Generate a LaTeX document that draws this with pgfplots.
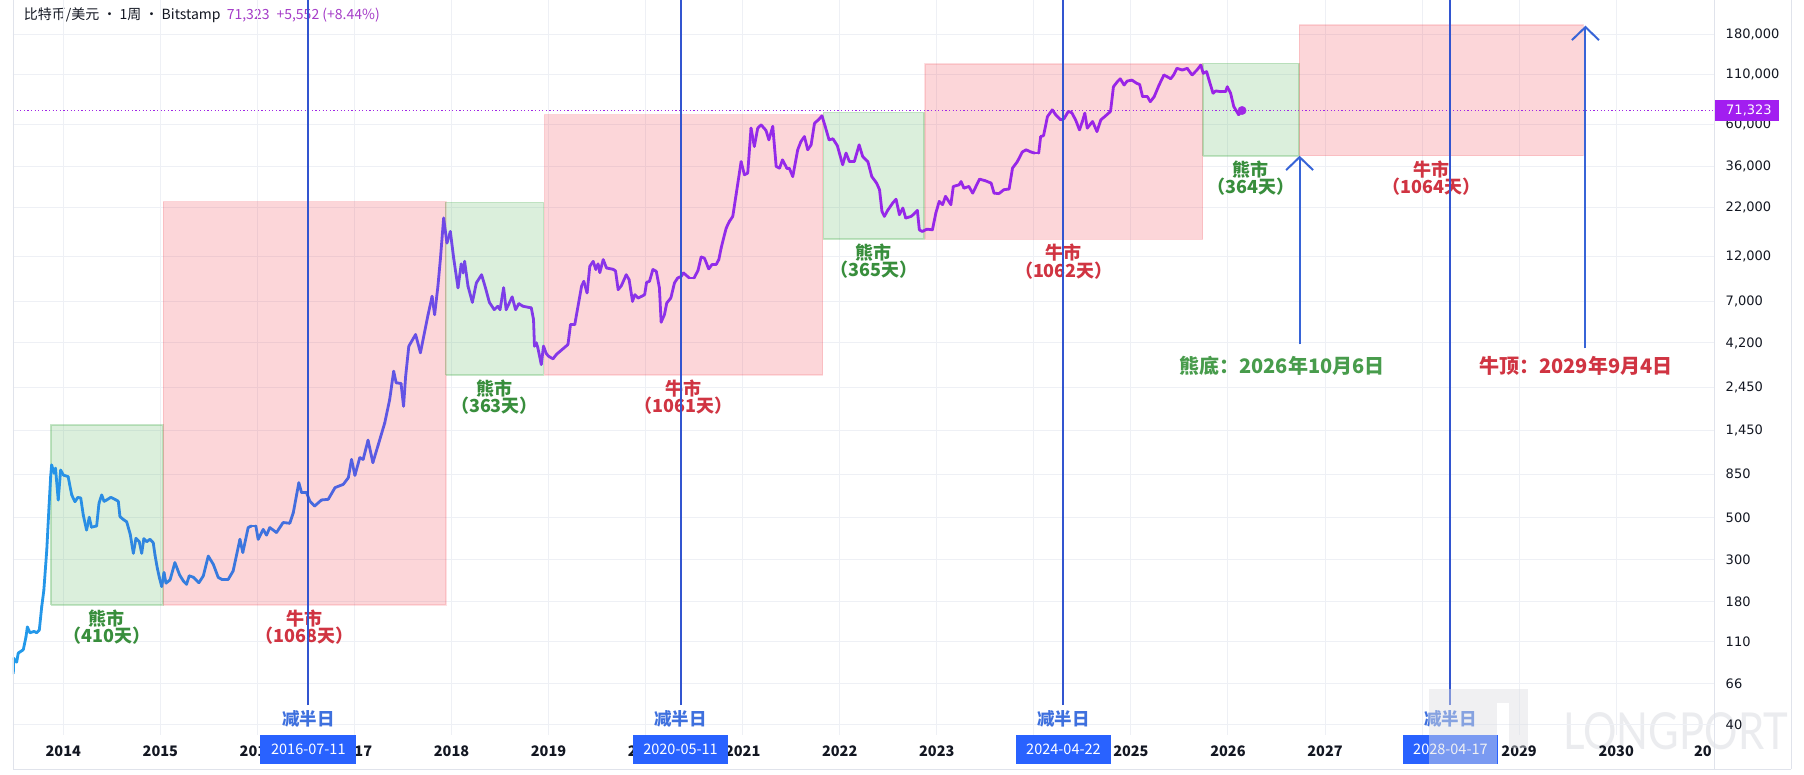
\documentclass[border=0pt]{standalone}
\usepackage{fontspec}
\setmainfont{Noto Sans CJK SC}
\newfontfamily\tickfont{DejaVu Sans}
\newfontfamily\wmfont{Lato}
\usepackage{graphicx}
\usepackage{pgfplots}
\pgfplotsset{compat=1.18}
\usetikzlibrary{arrows.meta}

\definecolor{txt}{RGB}{19,23,34}
\definecolor{gridc}{RGB}{238,240,245}
\definecolor{bordc}{RGB}{224,227,235}
\definecolor{pinkc}{RGB}{242,54,69}
\definecolor{greenc}{RGB}{76,175,80}
\definecolor{gtext}{RGB}{56,142,60}
\definecolor{gtext2}{RGB}{72,156,76}
\definecolor{rtext}{RGB}{208,52,66}
\definecolor{halv}{RGB}{50,85,208}
\definecolor{halvtxt}{RGB}{62,112,222}
\definecolor{arrowc}{RGB}{55,100,215}
\definecolor{tvblue}{RGB}{41,98,255}
\definecolor{purp}{RGB}{160,40,230}
\definecolor{purptxt}{RGB}{165,60,200}
\definecolor{pricebox}{RGB}{162,30,240}
\definecolor{wmc}{RGB}{222,223,228}

\pgfplotsset{colormap={btc}{rgb255(0cm)=(33,155,235); rgb255(1.5cm)=(50,130,222); rgb255(3cm)=(68,108,222); rgb255(4.2cm)=(105,78,230); rgb255(5.2cm)=(130,58,232); rgb255(7.5cm)=(148,42,234); rgb255(12.7cm)=(155,35,230)}}

\pgfplotstableread[row sep=\\]{
x y\\
2013.485 75\\ 2013.49 90\\ 2013.52 86\\ 2013.536 96\\ 2013.588 100\\ 2013.616 117\\ 2013.63 132\\ 2013.657 123\\ 2013.70 125\\ 2013.726 123\\
2013.753 127\\ 2013.778 169\\ 2013.80 207\\ 2013.83 337\\ 2013.853 571\\ 2013.87 824\\ 2013.88 950\\ 2013.905 859\\ 2013.92 913\\ 2013.948 620\\
2013.973 893\\ 2014.00 840\\ 2014.05 824\\ 2014.087 659\\ 2014.12 607\\ 2014.15 640\\ 2014.18 635\\ 2014.206 516\\ 2014.24 430\\ 2014.268 502\\
2014.29 445\\ 2014.344 452\\ 2014.368 596\\ 2014.396 659\\ 2014.42 610\\ 2014.447 620\\ 2014.49 640\\ 2014.533 625\\ 2014.567 610\\ 2014.584 506\\
2014.625 486\\ 2014.653 476\\ 2014.69 408\\ 2014.722 324\\ 2014.749 389\\ 2014.783 373\\ 2014.808 324\\ 2014.83 387\\ 2014.86 373\\ 2014.893 384\\
2014.927 369\\ 2014.945 317\\ 2014.969 270\\ 2014.99 241\\ 2015.014 216\\ 2015.038 256\\ 2015.058 225\\ 2015.10 234\\ 2015.15 289\\ 2015.20 248\\
2015.24 230\\ 2015.27 222\\ 2015.298 246\\ 2015.34 242\\ 2015.397 226\\ 2015.443 246\\ 2015.494 313\\ 2015.546 283\\ 2015.597 241\\ 2015.632 236\\
2015.70 236\\ 2015.75 261\\ 2015.82 384\\ 2015.85 327\\ 2015.905 443\\ 2015.94 452\\ 2015.984 452\\ 2016.008 384\\ 2016.06 433\\ 2016.094 404\\
2016.128 443\\ 2016.197 417\\ 2016.265 471\\ 2016.334 467\\ 2016.37 531\\ 2016.427 765\\ 2016.455 678\\ 2016.506 678\\ 2016.54 612\\ 2016.59 576\\
2016.66 620\\ 2016.73 625\\ 2016.80 721\\ 2016.885 750\\ 2016.937 813\\ 2016.97 1016\\ 2017.005 837\\ 2017.055 1038\\ 2017.09 1016\\ 2017.14 1285\\
2017.19 977\\ 2017.243 1204\\ 2017.312 1585\\ 2017.363 2107\\ 2017.404 2976\\ 2017.43 2585\\ 2017.48 2563\\ 2017.506 1945\\ 2017.527 2780\\ 2017.56 4035\\
2017.63 4656\\ 2017.68 3725\\ 2017.759 5940\\ 2017.80 7410\\ 2017.826 5930\\ 2017.86 8380\\ 2017.885 11590\\ 2017.919 19230\\ 2017.953 14190\\ 2017.988 16340\\
2018.022 11830\\ 2018.067 8220\\ 2018.10 11000\\ 2018.12 9860\\ 2018.135 11350\\ 2018.17 8380\\ 2018.215 6890\\ 2018.256 8730\\ 2018.31 9640\\ 2018.35 8220\\
2018.39 6890\\ 2018.44 6300\\ 2018.478 6570\\ 2018.50 6300\\ 2018.537 8220\\ 2018.563 6300\\ 2018.625 7360\\ 2018.66 6300\\ 2018.694 6780\\ 2018.735 6570\\
2018.822 6440\\ 2018.845 5590\\ 2018.855 4040\\ 2018.874 4210\\ 2018.89 3950\\ 2018.925 3230\\ 2018.948 4040\\ 2018.975 3700\\ 2019.00 3570\\ 2019.046 3460\\
2019.08 3650\\ 2019.20 4120\\ 2019.226 5250\\ 2019.27 5250\\ 2019.288 5930\\ 2019.34 8380\\ 2019.363 8900\\ 2019.397 7730\\ 2019.425 10690\\ 2019.46 11350\\
2019.487 10280\\ 2019.51 11000\\ 2019.528 9900\\ 2019.563 11590\\ 2019.597 10470\\ 2019.666 10300\\ 2019.69 10100\\ 2019.717 8040\\ 2019.75 8430\\ 2019.80 9640\\
2019.83 9080\\ 2019.865 6970\\ 2019.889 7560\\ 2019.923 7260\\ 2019.958 7410\\ 2019.99 7560\\ 2020.01 8790\\ 2020.04 8900\\ 2020.075 10280\\ 2020.11 10050\\
2020.142 8220\\ 2020.16 5410\\ 2020.194 5930\\ 2020.218 6840\\ 2020.26 7260\\ 2020.297 8730\\ 2020.33 9270\\ 2020.366 9440\\ 2020.39 9860\\ 2020.45 9270\\
2020.50 9270\\ 2020.54 10170\\ 2020.572 11970\\ 2020.606 11800\\ 2020.65 10350\\ 2020.685 10930\\ 2020.727 10930\\ 2020.754 11590\\ 2020.778 13360\\ 2020.83 17020\\
2020.863 18460\\ 2020.898 19630\\ 2020.932 25550\\ 2020.984 38250\\ 2021.018 32570\\ 2021.052 33260\\ 2021.086 57540\\ 2021.12 46030\\ 2021.155 57540\\ 2021.19 59840\\
2021.24 56000\\ 2021.27 49890\\ 2021.31 58750\\ 2021.345 36080\\ 2021.38 35330\\ 2021.41 39090\\ 2021.455 35330\\ 2021.48 35330\\ 2021.516 31900\\ 2021.567 44180\\
2021.60 48840\\ 2021.636 51900\\ 2021.67 44180\\ 2021.705 46900\\ 2021.74 61100\\ 2021.78 63630\\ 2021.817 66840\\ 2021.85 58750\\ 2021.89 49890\\ 2021.93 50500\\
2021.975 46500\\ 2022.03 36840\\ 2022.065 42460\\ 2022.10 38250\\ 2022.15 38250\\ 2022.20 46900\\ 2022.237 40600\\ 2022.29 38250\\ 2022.33 31900\\ 2022.38 29440\\
2022.41 27160\\ 2022.435 20870\\ 2022.46 19630\\ 2022.493 21100\\ 2022.545 23070\\ 2022.58 24210\\ 2022.615 20040\\ 2022.65 21730\\ 2022.68 19230\\ 2022.735 19630\\
2022.76 20100\\ 2022.80 21100\\ 2022.82 16670\\ 2022.85 16340\\ 2022.90 16800\\ 2022.955 16670\\ 2022.99 20440\\ 2023.025 23550\\ 2023.06 22650\\ 2023.09 25060\\
2023.145 22650\\ 2023.17 28270\\ 2023.23 28830\\ 2023.25 30000\\ 2023.28 27680\\ 2023.33 28270\\ 2023.37 26060\\ 2023.44 30900\\ 2023.50 30300\\ 2023.56 29440\\
2023.59 26060\\ 2023.64 25900\\ 2023.69 27160\\ 2023.745 27400\\ 2023.78 35330\\ 2023.83 38250\\ 2023.88 43000\\ 2023.92 44180\\ 2023.97 43000\\ 2024.01 42460\\
2024.05 42460\\ 2024.07 51900\\ 2024.10 52500\\ 2024.14 66200\\ 2024.19 71880\\ 2024.225 67700\\ 2024.277 63630\\ 2024.31 64500\\ 2024.355 70500\\ 2024.39 69500\\
2024.43 63630\\ 2024.47 56300\\ 2024.50 62370\\ 2024.525 69000\\ 2024.55 57540\\ 2024.605 62370\\ 2024.65 55200\\ 2024.69 63630\\ 2024.73 66200\\ 2024.79 70500\\
2024.82 95200\\ 2024.86 101300\\ 2024.89 105000\\ 2024.93 97200\\ 2024.96 102000\\ 2025.01 103300\\ 2025.06 99300\\ 2025.09 98000\\ 2025.12 84400\\ 2025.17 84400\\
2025.20 79400\\ 2025.24 84400\\ 2025.29 97200\\ 2025.34 109900\\ 2025.375 107500\\ 2025.41 105000\\ 2025.44 109900\\ 2025.475 119200\\ 2025.53 116700\\ 2025.58 119200\\
2025.63 109900\\ 2025.68 116700\\ 2025.72 124000\\ 2025.745 112200\\ 2025.78 114500\\ 2025.805 103300\\ 2025.846 88000\\ 2025.873 90500\\ 2025.93 89700\\ 2025.976 89700\\
2025.993 95200\\ 2026.027 88000\\ 2026.06 74800\\ 2026.11 67700\\ 2026.145 71323\\
}\btc

\begin{document}
\begin{tikzpicture}[x=1pt,y=1pt]
\useasboundingbox (0pt,0pt) rectangle (1804pt,774pt);
\fill[white] (0pt,0pt) rectangle (1804pt,774pt);

% title
\node[anchor=base west, inner sep=0pt, font=\fontsize{14}{17}\selectfont, text=txt] at (23.7pt,754.9pt) {比特币/美元 · 1周 · Bitstamp};
\node[anchor=base west, inner sep=0pt, font=\fontsize{14}{17}\selectfont, text=purptxt] at (226.6pt,754.9pt) {71,323\hspace{7pt}+5,552 (+8.44\%)};

% watermark text
\node[inner sep=0pt, font=\wmfont\fontsize{51}{51}\selectfont, text=wmc!60!white] at (1675.5pt,42.5pt) {\scalebox{0.82}[1]{LONGPORT}};

\begin{axis}[
  at={(13pt,39pt)}, anchor=south west, scale only axis,
  width=1701pt, height=735pt,
  xmin=2013.482, xmax=2031.008,
  ymode=log, ymin=35.39, ymax=274100,
  xtick={2014,2015,2016,2017,2018,2019,2020,2021,2022,2023,2024,2025,2026,2027,2028,2029,2030},
  xticklabels={2014,2015,2016,2017,2018,2019,2020,2021,2022,2023,2024,2025,2026,2027,2028,2029,2030},
  ytick={40,66,110,180,300,500,850,1450,2450,4200,7000,12000,22000,36000,60000,110000,180000},
  yticklabels={40,66,110,180,300,500,850,{1,450},{2,450},{4,200},{7,000},{12,000},{22,000},{36,000},{60,000},{110,000},{180,000}},
  minor y tick num=0,
  yticklabel pos=right,
  grid=major, major grid style={draw=gridc, line width=1pt},
  axis line style={draw=none}, tick style={draw=none}, major tick length=0pt, minor tick length=0pt,
  xticklabel style={font=\bfseries\fontsize{14.5}{16}\selectfont, text=txt, anchor=center, yshift=-16.7pt},
  yticklabel style={font=\tickfont\fontsize{13}{15}\selectfont, text=txt, anchor=west, inner sep=0pt, xshift=11.5pt},
  point meta min=2013.5, point meta max=2026.2, colormap name=btc,
]
% boxes
\addplot[fill=greenc, fill opacity=0.2, draw=greenc, draw opacity=0.3, line width=1.8pt] coordinates {(2013.870,172.5) (2015.024,172.5) (2015.024,1545) (2013.870,1545) (2013.870,172.5)};
\addplot[fill=pinkc, fill opacity=0.2, draw=pinkc, draw opacity=0.15, line width=1.2pt] coordinates {(2015.030,172.5) (2017.943,172.5) (2017.943,23480) (2015.030,23480) (2015.030,172.5)};
\addplot[fill=greenc, fill opacity=0.2, draw=greenc, draw opacity=0.3, line width=1.5pt] coordinates {(2017.940,2843) (2018.946,2843) (2018.946,23190) (2017.940,23190) (2017.940,2843)};
\addplot[fill=pinkc, fill opacity=0.2, draw=pinkc, draw opacity=0.15, line width=1.2pt] coordinates {(2018.956,2843) (2021.825,2843) (2021.825,67760) (2018.956,67760) (2018.956,2843)};
\addplot[fill=greenc, fill opacity=0.2, draw=greenc, draw opacity=0.3, line width=1.5pt] coordinates {(2021.831,14900) (2022.869,14900) (2022.869,69420) (2021.831,69420) (2021.831,14900)};
\addplot[fill=pinkc, fill opacity=0.2, draw=pinkc, draw opacity=0.15, line width=1.2pt] coordinates {(2022.879,14850) (2025.741,14850) (2025.741,125700) (2022.879,125700) (2022.879,14850)};
\addplot[fill=greenc, fill opacity=0.2, draw=greenc, draw opacity=0.3, line width=1.5pt] coordinates {(2025.741,40970) (2026.733,40970) (2026.733,126800) (2025.741,126800) (2025.741,40970)};
\addplot[fill=pinkc, fill opacity=0.2, draw=pinkc, draw opacity=0.15, line width=1.2pt] coordinates {(2026.733,41060) (2029.662,41060) (2029.662,202100) (2026.733,202100) (2026.733,41060)};

% last price dotted line
\addplot[purp, line width=1pt, dash pattern=on 1.2pt off 2.4pt] coordinates {(2013.482,71323) (2031.008,71323)};

% price line
\addplot[mesh, shader=flat, point meta=x, line width=2.8pt, line cap=round, line join=round] table[x=x, y=y] {\btc};
\addplot[only marks, mark=*, mark size=4.2pt, mark options={fill=purp, draw=purp}] coordinates {(2026.145,71323)};

% bear / bull labels
\tikzset{lab/.style={anchor=north, align=center, inner sep=0pt, yshift=-4.5pt, font=\bfseries\fontsize{18}{17.5}\selectfont}}
\node[lab, text=gtext] at (axis cs:2014.447,172.5) {熊市\\（410天）};
\node[lab, text=rtext] at (axis cs:2016.487,172.5) {牛市\\（1068天）};
\node[lab, text=gtext] at (axis cs:2018.443,2843) {熊市\\（363天）};
\node[lab, text=rtext] at (axis cs:2020.390,2843) {牛市\\（1061天）};
\node[lab, text=gtext] at (axis cs:2022.350,14900) {熊市\\（365天）};
\node[lab, text=rtext] at (axis cs:2024.310,14850) {牛市\\（1062天）};
\node[lab, text=gtext] at (axis cs:2026.233,40970) {熊市\\（364天）};
\node[lab, text=rtext] at (axis cs:2028.100,41060) {牛市\\（1064天）};

% halving labels
\tikzset{hl/.style={inner sep=0pt, text=halvtxt, font=\bfseries\fontsize{17.5}{18}\selectfont}}
\node[hl] at (axis cs:2016.525,43.0) {减半日};
\node[hl] at (axis cs:2020.360,43.0) {减半日};
\node[hl] at (axis cs:2024.305,43.0) {减半日};
\node[hl] at (axis cs:2028.292,43.0) {减半日};

% halving lines
\addplot[halv, line width=2pt] coordinates {(2016.525,51) (2016.525,274100)};
\addplot[halv, line width=2pt] coordinates {(2020.360,51) (2020.360,274100)};
\addplot[halv, line width=2pt] coordinates {(2024.305,51) (2024.305,274100)};
\addplot[halv, line width=2pt] coordinates {(2028.292,51) (2028.292,274100)};

% arrows
\addplot[arrowc, line width=2pt, -{Straight Barb[length=13pt,width=27pt,line width=2pt]}] coordinates {(2026.738,4131) (2026.738,41110)};
\addplot[arrowc, line width=2pt, -{Straight Barb[length=13pt,width=27pt,line width=2pt]}] coordinates {(2029.683,3936) (2029.683,200400)};

\node[inner sep=0pt, text=gtext2, font=\bfseries\fontsize{20}{22}\selectfont] at (axis cs:2026.557,3184) {熊底：2026年10月6日};
\node[inner sep=0pt, text=rtext, font=\bfseries\fontsize{20}{22}\selectfont] at (axis cs:2029.584,3184) {牛顶：2029年9月4日};

\coordinate (h1) at (axis cs:2016.525,35.39);
\coordinate (h2) at (axis cs:2020.360,35.39);
\coordinate (h3) at (axis cs:2024.305,35.39);
\coordinate (h4) at (axis cs:2028.292,35.39);
\end{axis}

% halving date boxes
\foreach \c/\t in {h1/2016-07-11, h2/2020-05-11, h3/2024-04-22, h4/2028-04-17}
  \node[anchor=north, fill=tvblue, text=white, minimum width=95.7pt, minimum height=29pt, inner sep=0pt, font=\fontsize{14.5}{16}\selectfont] at (\c) {\t};

% watermark logo overlay
\fill[wmc, opacity=0.45] (1429pt,71pt) rectangle (1528pt,85pt);
\fill[wmc, opacity=0.45] (1429pt,10pt) rectangle (1497pt,71pt);
\fill[wmc, opacity=0.45] (1509pt,26pt) rectangle (1528pt,71pt);

% borders
\draw[bordc, line width=1pt] (13pt,5pt) -- (13pt,774pt);
\draw[bordc, line width=1pt] (1714pt,5pt) -- (1714pt,774pt);
\draw[bordc, line width=1pt] (13pt,5pt) -- (1791pt,5pt);
\draw[bordc, line width=1pt] (1791pt,5pt) -- (1791pt,774pt);

% last price label
\fill[pricebox] (1715pt,653pt) rectangle (1779pt,674pt);
\node[anchor=west, inner sep=0pt, text=white, font=\tickfont\fontsize{13}{15}\selectfont] at (1726pt,663.5pt) {71,323};

% truncated last year label
\node[anchor=east, inner sep=0pt, font=\bfseries\fontsize{14.5}{16}\selectfont, text=txt] at (1712pt,22.3pt) {20};
\end{tikzpicture}
\end{document}
